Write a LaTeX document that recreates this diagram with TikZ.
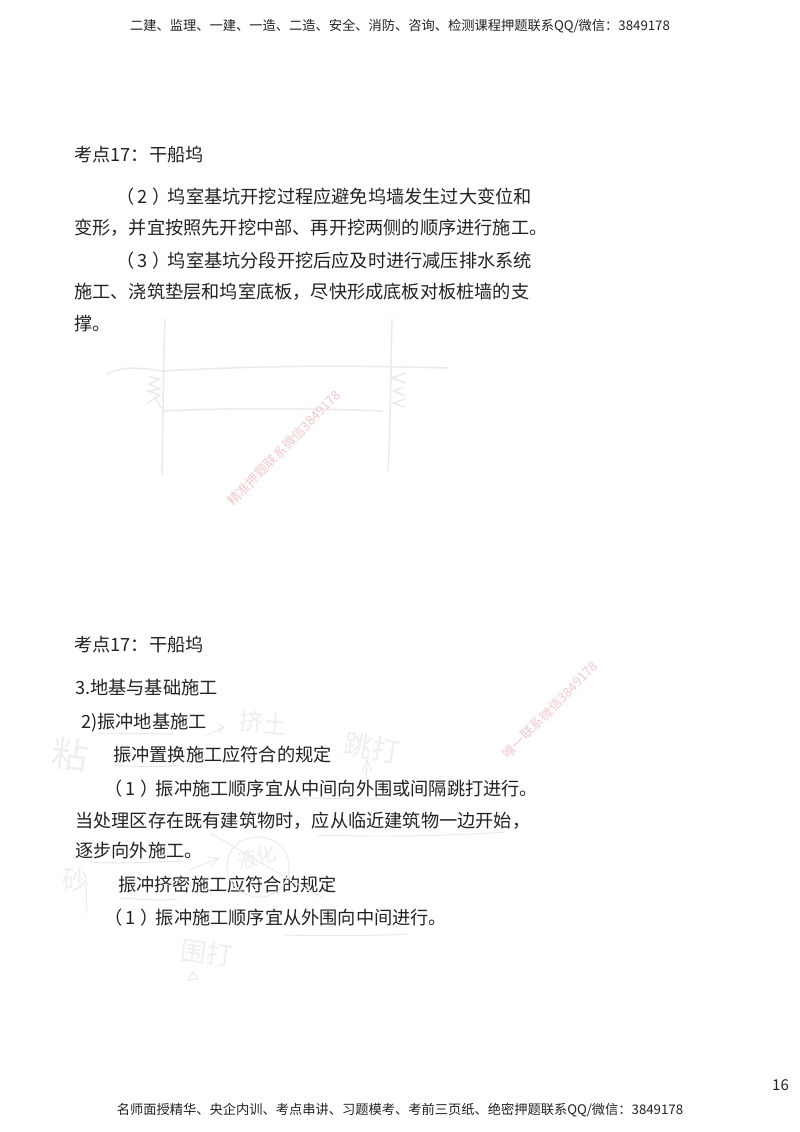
\documentclass[tikz,border=0pt]{standalone}
\usepackage{fontspec}
\setmainfont{Noto Sans CJK SC}
\definecolor{inkc}{HTML}{222222}
\definecolor{sketchc}{HTML}{EAEAEA}
\definecolor{handc}{HTML}{E8E8E8}
\definecolor{notec}{HTML}{EEEEEE}
\definecolor{markc}{HTML}{F0C8CC}
\newcommand{\pnum}[1]{（\kern.16em#1\kern.28em）\kern-.15em}
\tikzset{
  body/.style={anchor=base west,inner sep=0pt,text=inkc,font=\fontsize{18.2}{20}\selectfont},
  band/.style={anchor=base,inner sep=0pt,text=inkc,font=\fontsize{13.25}{15}\selectfont},
  hand/.style={inner sep=0pt,text=notec},
  wmark/.style={inner sep=0pt,text=markc,rotate=46,font=\fontsize{13}{15}\selectfont},
  sketch/.style={draw=sketchc,line width=1.5pt,line cap=round},
  stroke/.style={draw=handc,line width=0.9pt,line cap=round}
}
\begin{document}
\begin{tikzpicture}[x=1pt,y=-1pt]
  \useasboundingbox (0,0) rectangle (800,1132);
  \node[band] (head) at (400,31) {二建、监理、一建、一造、二造、安全、消防、咨询、检测课程押题联系QQ/微信：3849178};
  \node[band] (foot) at (400,1114) {名师面授精华、央企内训、考点串讲、习题模考、考前三页纸、绝密押题联系QQ/微信：3849178};
  \node[body,font=\fontsize{15}{18}\selectfont] (page) at (772,1090) {16};
  % upper text
  \node[body] (title1) at (74,161) {考点17：干船坞};
  \node[body] (a1) at (116,203) {\pnum{2}坞室基坑开挖过程应避免坞墙发生过大变位和};
  \node[body] (a2) at (74,234) {变形，并宜按照先开挖中部、再开挖两侧的顺序进行施工。};
  \node[body] (a3) at (116,267) {\pnum{3}坞室基坑分段开挖后应及时进行减压排水系统};
  \node[body] (a4) at (74,298) {施工、浇筑垫层和坞室底板，尽快形成底板对板桩墙的支};
  \node[body] (a5) at (74,330) {撑。};
  % lower text
  \node[body] (title2) at (74,651) {考点17：干船坞};
  \node[body] (b1) at (75,694) {3.地基与基础施工};
  \node[body] (b2) at (81,728) {2)振冲地基施工};
  \node[body] (b3) at (113,761) {振冲置换施工应符合的规定};
  \node[body] (b4) at (104,795) {\pnum{1}振冲施工顺序宜从中间向外围或间隔跳打进行。};
  \node[body] (b5) at (75,827) {当处理区存在既有建筑物时，应从临近建筑物一边开始，};
  \node[body] (b6) at (75,857) {逐步向外施工。};
  \node[body] (b7) at (118,891) {振冲挤密施工应符合的规定};
  \node[body] (b8) at (104,924) {\pnum{1}振冲施工顺序宜从外围向中间进行。};
  % dock sketch
  \draw[sketch] (165,319) .. controls (163,370) and (163,440) .. (162,474);
  \draw[sketch] (392,319) .. controls (391,370) and (390,440) .. (388,471);
  \draw[sketch] (107,374) .. controls (120,368) and (130,366) .. (162,371) .. controls (220,368) and (300,364) .. (447,368);
  \draw[sketch] (164,411) .. controls (220,408) and (300,408) .. (382,411);
  \draw[sketch] (150,377) -- (160,379) -- (149,384) -- (160,389) -- (148,391) -- (160,395) -- (148,403);
  \draw[sketch] (155,397) -- (161,408);
  \draw[sketch] (405,373) -- (392,378) -- (405,383);
  \draw[sketch] (403,387) -- (394,391) -- (405,396);
  \draw[sketch] (405,399) -- (393,403) -- (405,407);
  % notes in the margin
  \node[hand,rotate=-8,font=\fontsize{36}{38}\selectfont] (n1) at (70,754) {粘};
  \node[hand,rotate=-6,font=\fontsize{24}{26}\selectfont] (n2) at (263,723) {挤土};
  \node[hand,rotate=-10,font=\fontsize{28}{30}\selectfont] (n3) at (372,748) {跳打};
  \node[hand,rotate=15,font=\fontsize{20}{22}\selectfont] (n4) at (257,857) {液化};
  \node[hand,font=\fontsize{26}{28}\selectfont] (n5) at (75,880) {砂};
  \node[hand,rotate=-8,font=\fontsize{26}{28}\selectfont] (n6) at (207,953) {围打};
  \draw[stroke] (207,735) -- (224,727) -- (218,724) (224,727) -- (219,732);
  \draw[stroke] (362,772) -- (367,760) -- (372,772);
  \draw[stroke] (367,760) -- (366,782);
  \draw[stroke] (190,870) -- (218,858) -- (208,857) (218,858) -- (212,866);
  \draw[stroke] (210,833) .. controls (240,850) and (268,868) .. (323,898);
  \draw[stroke] (258,837) .. controls (218,838) and (216,890) .. (255,897) .. controls (298,900) and (302,838) .. (258,837);
  \draw[stroke] (86,880) -- (87,913);
  \draw[stroke] (193,972) -- (188,980) -- (198,979) -- cycle;
  % underlines
  \draw[stroke] (98,733) -- (173,734);
  \draw[stroke] (113,765) .. controls (140,767) and (160,767) .. (180,765);
  \draw[stroke] (287,798) -- (387,799);
  \draw[stroke] (317,835) .. controls (380,837) and (450,836) .. (505,832);
  \draw[stroke] (90,862) .. controls (120,864) and (150,862) .. (183,861);
  \draw[stroke] (120,898) .. controls (150,900) and (170,901) .. (177,899);
  \draw[stroke] (283,935) .. controls (320,936) and (370,936) .. (408,934);
  % watermarks
  \node[wmark] (w1) at (284,448) {精准押题联系微信3849178};
  \node[wmark] (w2) at (550,710) {唯一联系微信3849178};
\end{tikzpicture}
\end{document}
